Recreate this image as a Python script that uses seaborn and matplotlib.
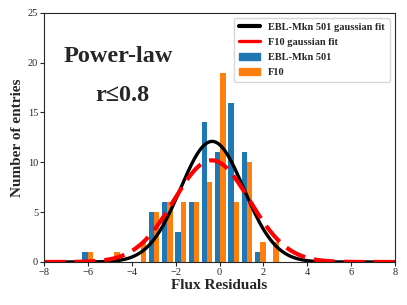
import numpy as np
import pandas as pd
import matplotlib
matplotlib.use("Agg")
import matplotlib.pyplot as plt
import seaborn as sns
from matplotlib.lines import Line2D
from matplotlib.patches import Patch

# ---- data ----
series_names = ["EBL-Mkn 501", "F10"]
bin_edges = [-6.325, -5.719, -5.113, -4.507, -3.901, -3.295, -2.689, -2.083,
             -1.477, -0.871, -0.265, 0.341, 0.947, 1.553, 2.159, 2.765]
bin_centers = [-6.022, -5.416, -4.810, -4.204, -3.598, -2.992, -2.386, -1.780,
               -1.174, -0.568, 0.038, 0.644, 1.250, 1.856, 2.462]
ebl_counts = [1, 0, 0, 0, 0, 5, 6, 3, 6, 14, 11, 16, 11, 1, 0]
f10_counts = [1, 0, 1, 0, 2, 5, 6, 6, 6, 8, 19, 6, 10, 2, 2]
# gaussian fit parameters: amplitude, mean, sigma
ebl_fit = [12.1, -0.34, 1.45]
f10_fit = [10.2, -0.36, 1.73]
x_ticks = [-8, -6, -4, -2, 0, 2, 4, 6, 8]
y_ticks = [0, 5, 10, 15, 20, 25]

df = pd.DataFrame({
    "value": bin_centers * 2,
    "count": ebl_counts + f10_counts,
    "series": [series_names[0]] * len(bin_centers) + [series_names[1]] * len(bin_centers),
})

sns.set_style("ticks")
plt.rcParams["font.family"] = ["Liberation Serif", "DejaVu Serif"]

fig = plt.figure(figsize=(4.07, 3.05), dpi=100)
ax = fig.add_axes([0.109, 0.141, 0.861, 0.817])

blue, orange = "#1f77b4", "#ff7f0e"
sns.histplot(data=df, x="value", weights="count", hue="series", hue_order=series_names,
             bins=bin_edges, multiple="dodge", shrink=0.8, palette=[blue, orange],
             alpha=1, edgecolor="none", linewidth=0, legend=False, ax=ax)

xs = np.linspace(-8, 8, 600)
def gauss(x, a, m, s):
    return a * np.exp(-(x - m) ** 2 / (2 * s ** 2))

ax.plot(xs, gauss(xs, *ebl_fit), color="black", lw=2.4)
ax.plot(xs, gauss(xs, *f10_fit), color="red", lw=3, linestyle=(0, (5, 2.2)))

ax.set_xlim(-8, 8)
ax.set_ylim(0, 25)
ax.set_xticks(x_ticks)
ax.set_yticks(y_ticks)
ax.set_xticklabels(["\u2212%d" % -t if t < 0 else str(t) for t in x_ticks])
ax.tick_params(labelsize=7.5, length=3, width=0.8, pad=1.5)
for sp in ax.spines.values():
    sp.set_linewidth(0.8)
ax.set_xlabel("Flux Residuals", fontsize=11, fontweight="bold", labelpad=1)
ax.set_ylabel("Number of entries", fontsize=11, fontweight="bold", labelpad=3)

ax.text(-4.62, 20.65, "Power-law", fontsize=17.5, fontweight="bold", ha="center", va="center")
ax.text(-4.45, 16.7, "r\u22640.8", fontsize=17.5, fontweight="bold", ha="center", va="center")

handles = [Line2D([], [], color="black", lw=3),
           Line2D([], [], color="red", lw=2.4),
           Patch(color=blue), Patch(color=orange)]
labels = ["EBL-Mkn 501 gaussian fit", "F10 gaussian fit", "EBL-Mkn 501", "F10"]
ax.legend(handles, labels, loc="upper right", prop={"weight": "bold", "size": 7.5},
          handlelength=2.0, borderpad=0.45, labelspacing=0.55, frameon=True)

fig.savefig("out.png", dpi=100)
